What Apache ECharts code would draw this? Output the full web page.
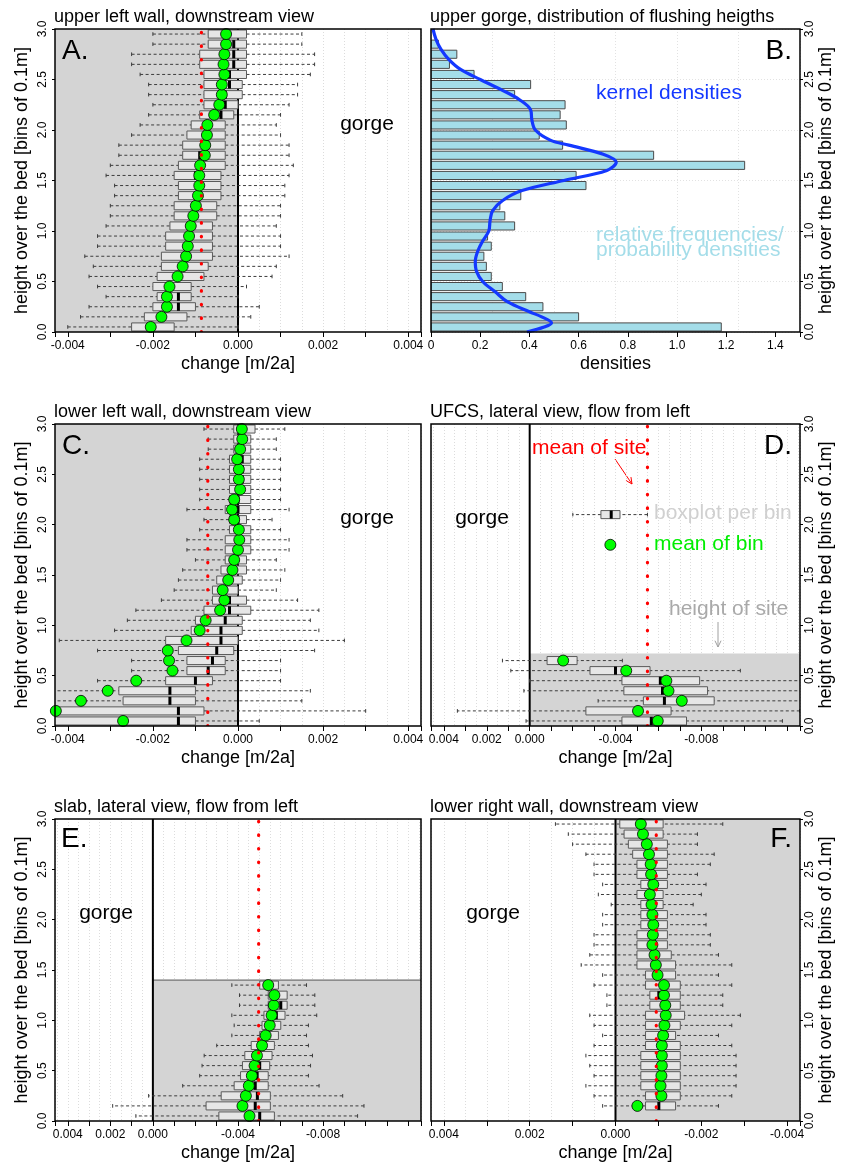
<!DOCTYPE html>
<html><head><meta charset="utf-8">
<script src="https://cdn.jsdelivr.net/npm/echarts@6/dist/echarts.min.js"></script>
<style>html,body{margin:0;padding:0;background:#fff}#c{width:841px;height:1168px}</style>
</head><body><div id="c"></div><script>
const FONT = '"Liberation Sans", Arial, Helvetica, sans-serif';
const BIN = 0.1;
const Y_RANGE = [0, 3];
const Y_TICKS = 0.5;

// ---------- Panel A: upper left wall (rows: [whiskerLow, q1, median, q3, whiskerHigh], bin 0 = bottom)
const A_BOX = [
  [-0.0040,-0.0025,-0.0020,-0.0015,0.0000],[-0.0037,-0.0022,-0.0018,-0.0012,0.0003],
  [-0.0035,-0.0020,-0.0014,-0.0010,0.0005],[-0.0031,-0.0019,-0.0014,-0.0011,0.0000],
  [-0.0033,-0.0020,-0.0016,-0.0011,0.0002],[-0.0035,-0.0019,-0.0014,-0.0008,0.0008],
  [-0.0034,-0.0018,-0.0013,-0.0007,0.0009],[-0.0036,-0.0018,-0.0012,-0.0006,0.0012],
  [-0.0033,-0.0017,-0.0012,-0.0006,0.0010],[-0.0033,-0.0017,-0.0011,-0.0006,0.0010],
  [-0.0031,-0.0016,-0.0011,-0.0006,0.0009],[-0.0030,-0.0015,-0.0010,-0.0005,0.0010],
  [-0.0030,-0.0015,-0.0010,-0.0005,0.0010],[-0.0029,-0.0014,-0.0009,-0.0004,0.0011],
  [-0.0029,-0.0014,-0.0009,-0.0004,0.0011],[-0.0031,-0.0015,-0.0010,-0.0004,0.0012],
  [-0.0030,-0.0014,-0.0009,-0.0003,0.0013],[-0.0028,-0.0013,-0.0009,-0.0003,0.0012],
  [-0.0028,-0.0013,-0.0008,-0.0003,0.0012],[-0.0025,-0.0012,-0.0007,-0.0003,0.0010],
  [-0.0023,-0.0011,-0.0007,-0.0003,0.0009],[-0.0021,-0.0009,-0.0004,-0.0001,0.0010],
  [-0.0020,-0.0008,-0.0003,0.0000,0.0012],[-0.0021,-0.0008,-0.0003,0.0001,0.0014],
  [-0.0021,-0.0008,-0.0002,0.0001,0.0014],[-0.0023,-0.0008,-0.0002,0.0002,0.0017],
  [-0.0025,-0.0009,-0.0001,0.0002,0.0018],[-0.0025,-0.0009,-0.0001,0.0002,0.0018],
  [-0.0020,-0.0007,-0.0001,0.0002,0.0015],[-0.0020,-0.0007,-0.0003,0.0002,0.0015]
];
const A_MEAN = [-0.00205,-0.0018,-0.00167,-0.00167,-0.00161,-0.00142,-0.0013,-0.00122,-0.00118,-0.00115,
  -0.00111,-0.00105,-0.00099,-0.00094,-0.00091,-0.00091,-0.00089,-0.00078,-0.00077,-0.00073,
  -0.00072,-0.00056,-0.00044,-0.00038,-0.00038,-0.00032,-0.00034,-0.00032,-0.00028,-0.00028];
const A_SITE_MEAN = -0.00086;
const A_XLIM = [-0.0043, 0.0043];

// ---------- Panel B: distribution of flushing heights
const B_DENS = [1.18,0.60,0.455,0.385,0.29,0.245,0.225,0.215,0.245,0.23,
  0.34,0.30,0.28,0.365,0.63,0.59,1.275,0.905,0.535,0.44,
  0.55,0.525,0.545,0.34,0.405,0.175,0.075,0.105,0.03,0];
const KDE_H = [0,0.05,0.09,0.15,0.2,0.3,0.4,0.5,0.6,0.7,0.8,0.9,1.0,1.1,1.2,1.3,1.4,1.5,1.6,1.68,1.76,1.85,1.9,2.0,2.1,2.2,2.3,2.4,2.5,2.6,2.7,2.8,2.9,3.0];
const KDE_D = [0.39,0.46,0.49,0.45,0.40,0.31,0.26,0.21,0.185,0.18,0.19,0.21,0.235,0.24,0.25,0.29,0.37,0.54,0.715,0.753,0.70,0.56,0.485,0.424,0.41,0.405,0.36,0.285,0.2,0.12,0.072,0.04,0.02,0.008];
const B_XLIM = [0, 1.5];

// ---------- Panel C: lower left wall
const C_BOX = [
  [-0.0055,-0.0044,-0.0014,-0.0010,0.0005],[-0.0055,-0.0044,-0.0014,-0.0008,0.0030],
  [-0.0045,-0.0027,-0.0016,-0.0010,0.0015],[-0.0045,-0.0028,-0.0016,-0.0010,0.0017],
  [-0.0033,-0.0017,-0.0010,-0.0006,0.0010],[-0.0025,-0.0012,-0.0007,-0.0003,0.0010],
  [-0.0025,-0.0012,-0.0006,-0.0003,0.0010],[-0.0033,-0.0014,-0.0005,-0.0001,0.0018],
  [-0.0042,-0.0017,-0.0004,0.0000,0.0025],[-0.0029,-0.0011,-0.0004,0.0001,0.0019],
  [-0.0026,-0.0010,-0.0003,0.0001,0.0017],[-0.0024,-0.0008,-0.0002,0.0003,0.0019],
  [-0.0018,-0.0006,-0.0002,0.0002,0.0014],[-0.0015,-0.0006,-0.0003,0.0000,0.0009],
  [-0.0014,-0.0005,-0.0002,0.0001,0.0010],[-0.0013,-0.0004,-0.0001,0.0002,0.0011],
  [-0.0010,-0.0003,-0.0001,0.0002,0.0009],[-0.0012,-0.0003,0.0000,0.0003,0.0012],
  [-0.0012,-0.0003,0.0000,0.0003,0.0012],[-0.0009,-0.0002,0.0000,0.0003,0.0010],
  [-0.0008,-0.0002,0.0000,0.0002,0.0008],[-0.0012,-0.0003,0.0000,0.0003,0.0012],
  [-0.0009,-0.0002,0.0000,0.0003,0.0010],[-0.0009,-0.0002,0.0001,0.0003,0.0010],
  [-0.0009,-0.0002,0.0001,0.0003,0.0010],[-0.0009,-0.0002,0.0001,0.0003,0.0010],
  [-0.0009,-0.0002,0.0001,0.0003,0.0010],[-0.0007,-0.0001,0.0001,0.0003,0.0009],
  [-0.0007,-0.0001,0.0001,0.0003,0.0009],[-0.0008,-0.0001,0.0001,0.0004,0.0011]
];
const C_MEAN = [-0.0027,-0.00428,-0.00369,-0.00306,-0.00239,-0.00154,-0.00162,-0.00165,-0.00121,-0.0009,
  -0.00076,-0.00042,-0.00032,-0.00036,-0.00023,-0.00013,-0.00009,0.0,0.00003,0.00002,
  -0.00009,-0.00014,-0.00009,0.00005,0.00002,0.00002,-0.00002,0.00005,0.0001,0.00009];
const C_SITE_MEAN = -0.00071;
const C_XLIM = [-0.0043, 0.0043];

// ---------- Panel D: UFCS (lateral view)
const D_BOX = [
  [-0.01178,-0.00731,-0.00567,-0.0043,0.00017],[-0.01259,-0.00659,-0.0050,-0.00262,0.00337],
  [-0.0135,-0.0086,-0.00628,-0.0053,-0.00319],[-0.0135,-0.00829,-0.00619,-0.00439,0.00027],
  [-0.0135,-0.00792,-0.00609,-0.0043,0.0000],[-0.00982,-0.00561,-0.0040,-0.00281,0.00088],
  [-0.00432,-0.00221,-0.0016,-0.00081,0.00127]
];
const D_MEAN = [-0.00597,-0.00505,-0.00709,-0.00647,-0.00637,-0.0045,-0.00156];
const D_SITE_MEAN = -0.00549;
const D_SITE_HEIGHT = 0.72;
const D_LEGEND_BOX = [-0.00549,-0.00421,-0.0038,-0.00332,-0.00201];
const D_LEGEND_BOX_Y = 2.1;
const D_LEGEND_MEAN = [-0.00376, 1.8];
const D_XLIM = [-0.0126, 0.0046];

// ---------- Panel E: slab (lateral view)
const E_BOX = [
  [-0.00962,-0.00571,-0.00502,-0.0031,0.0008],[-0.00992,-0.00552,-0.00481,-0.0025,0.00189],
  [-0.00892,-0.00552,-0.00491,-0.00321,0.0002],[-0.00781,-0.00542,-0.00481,-0.00382,-0.0014],
  [-0.00731,-0.00542,-0.0049,-0.00412,-0.0022],[-0.00741,-0.00549,-0.00502,-0.00421,-0.00231],
  [-0.0075,-0.0056,-0.0050,-0.00432,-0.00241],[-0.00731,-0.00571,-0.0052,-0.00462,-0.0030],
  [-0.00722,-0.0059,-0.0054,-0.00502,-0.00371],[-0.00731,-0.00601,-0.0056,-0.00513,-0.00382],
  [-0.0077,-0.00621,-0.0058,-0.00522,-0.00371],[-0.00761,-0.00631,-0.00601,-0.00542,-0.00407],
  [-0.00761,-0.00631,-0.0058,-0.00542,-0.00407],[-0.00722,-0.0059,-0.0054,-0.00502,-0.00371]
];
const E_MEAN = [-0.00454,-0.00421,-0.00437,-0.00451,-0.00465,-0.00478,-0.00489,-0.00513,-0.0053,-0.00549,-0.00558,-0.00568,-0.00571,-0.00542];
const E_SITE_MEAN = -0.00497;
const E_SITE_HEIGHT = 1.4;
const E_XLIM = [-0.0126, 0.0046];

// ---------- Panel F: lower right wall (no data in bin 0)
const F_BOX = [
  null,
  [-0.0024,-0.0014,-0.00101,-0.0007,0.0003],[-0.00271,-0.00151,-0.0011,-0.0007,0.0005],
  [-0.00281,-0.00151,-0.0011,-0.00059,0.00069],[-0.00281,-0.00151,-0.0011,-0.00059,0.0005],
  [-0.00281,-0.00151,-0.0011,-0.00059,0.0006],[-0.00281,-0.00151,-0.0011,-0.00059,0.00069],
  [-0.00271,-0.00151,-0.0011,-0.0007,0.0005],[-0.0024,-0.0014,-0.0011,-0.0007,0.0003],
  [-0.00271,-0.00151,-0.00112,-0.0007,0.0005],[-0.00291,-0.00161,-0.00115,-0.0007,0.0006],
  [-0.0025,-0.00151,-0.00113,-0.0008,0.0002],[-0.0025,-0.00151,-0.00101,-0.0008,0.0002],
  [-0.00271,-0.00151,-0.00112,-0.0007,0.0005],[-0.0024,-0.0014,-0.00098,-0.0007,0.0003],
  [-0.00271,-0.0014,-0.00094,-0.0005,0.0008],[-0.0024,-0.0013,-0.00091,-0.0005,0.0006],
  [-0.00221,-0.00121,-0.00086,-0.0005,0.0005],[-0.00221,-0.00121,-0.00087,-0.0005,0.0005],
  [-0.00211,-0.00121,-0.00088,-0.00059,0.0003],[-0.00211,-0.00121,-0.00086,-0.00059,0.0003],
  [-0.00181,-0.00111,-0.00084,-0.00059,0.0001],[-0.0020,-0.00111,-0.0008,-0.0005,0.0004],
  [-0.00211,-0.00121,-0.00088,-0.00059,0.0003],[-0.00191,-0.00121,-0.00083,-0.0005,0.0005],
  [-0.00221,-0.00121,-0.00082,-0.0005,0.0005],[-0.0023,-0.00121,-0.00078,-0.0004,0.00069],
  [-0.00191,-0.00121,-0.00073,-0.0003,0.0010],[-0.00191,-0.00111,-0.00064,-0.0002,0.0011],
  [-0.0025,-0.00111,-0.00059,-0.0001,0.0014]
];
const F_MEAN = [null,-0.00051,-0.00107,-0.00105,-0.00107,-0.00108,-0.00108,-0.00108,-0.00111,-0.00114,
  -0.00117,-0.00116,-0.00113,-0.00113,-0.00098,-0.00094,-0.00091,-0.00086,-0.00087,-0.00088,
  -0.00086,-0.00084,-0.0008,-0.00088,-0.00083,-0.00082,-0.00078,-0.00073,-0.00064,-0.00059];
const F_SITE_MEAN = -0.00095;
const F_XLIM = [-0.0043, 0.0043];

// ---------- texts
const TITLES = ['upper left wall, downstream view','upper gorge, distribution of flushing heigths',
  'lower left wall, downstream view','UFCS, lateral view, flow from left',
  'slab, lateral view, flow from left','lower right wall, downstream view'];
const LETTERS = ['A.','B.','C.','D.','E.','F.'];
const X_NAME = 'change [m/2a]';
const Y_NAME = 'height over the bed [bins of 0.1m]';

// ================= builder =================
const BOX_W = 0.08;
const grids = [], xAxes = [], yAxes = [], series = [];

function tickLabel(allowed) {
  return function (v) {
    const k = Math.round(v * 1e4);
    if (Math.abs(v * 1e4 - k) > 1e-6) return '';
    return allowed(k) ? (k / 1e4).toFixed(3) : '';
  };
}

function yAxisCfg(g, yPos, showSplit) {
  return {gridIndex:g, type:'value', min:Y_RANGE[0], max:Y_RANGE[1], interval:Y_TICKS, position:yPos,
    axisLine:{show:false, onZero:false}, axisTick:{show:true, length:3, lineStyle:{color:'#000'}},
    axisLabel:{rotate:90, fontSize:12, color:'#000', margin: yPos==='left'?6:4, fontFamily:FONT,
      formatter: v => v.toFixed(1)},
    splitLine:{show:!!showSplit, lineStyle:{color:'#e2e2e2', width:1, type:[1,2]}},
    name:Y_NAME, nameLocation:'middle', nameGap: yPos==='left'?24:17,
    nameTextStyle:{fontSize:18, color:'#000', fontFamily:FONT}};
}

function addPanel(rect, xlim, inverse, labelFn, yPos, xName) {
  const g = grids.length;
  grids.push(Object.assign({show:false, containLabel:false}, rect));
  const xi = xAxes.length;
  xAxes.push({gridIndex:g, type:'value', min:xlim[0], max:xlim[1], inverse:inverse, position:'bottom',
    splitNumber: Math.round((xlim[1]-xlim[0]) / 0.001075),
    axisLine:{show:false, onZero:false}, axisTick:{show:true, length:5, lineStyle:{color:'#000', width:1}},
    axisLabel:{formatter:labelFn, fontSize:12, color:'#000', margin:8, fontFamily:FONT},
    splitLine:{show:false},
    name:xName, nameLocation:'middle', nameGap:23,
    nameTextStyle:{fontSize:18, color:'#000', fontFamily:FONT}});
  xAxes.push({gridIndex:g, type:'value', min:xlim[0], max:xlim[1], inverse:inverse, position:'top',
    splitNumber: Math.round((xlim[1]-xlim[0]) / 0.000506),
    axisLine:{show:false, onZero:false}, axisTick:{show:false}, axisLabel:{show:false},
    splitLine:{show:true, lineStyle:{color:'#dcdcdc', width:1, type:[1,2]}}});
  const yi = yAxes.length;
  yAxes.push(yAxisCfg(g, yPos, false));
  return {g, xi, yi};
}

function renderBox(params, api) {
  const yc = api.value(0);
  const xs = [1,2,3,4,5].map(d => api.coord([api.value(d), yc])[0]);
  const py = api.coord([api.value(1), yc])[1];
  const h = api.size([0, BOX_W])[1];
  const cap = h * 0.45;
  const bl = Math.min(xs[1], xs[3]), br = Math.max(xs[1], xs[3]);
  const dash = {stroke:'#3c3c3c', lineWidth:1, lineDash:[3,2.5]};
  return {type:'group', children:[
    {type:'line', shape:{x1:xs[0], y1:py, x2:xs[1], y2:py}, style:dash},
    {type:'line', shape:{x1:xs[3], y1:py, x2:xs[4], y2:py}, style:dash},
    {type:'line', shape:{x1:xs[0], y1:py-cap/2, x2:xs[0], y2:py+cap/2}, style:{stroke:'#3c3c3c', lineWidth:1}},
    {type:'line', shape:{x1:xs[4], y1:py-cap/2, x2:xs[4], y2:py+cap/2}, style:{stroke:'#3c3c3c', lineWidth:1}},
    {type:'rect', shape:{x:bl, y:py-h/2, width:br-bl, height:h}, style:{fill:'#e6e6e6', stroke:'#5a5a5a', lineWidth:1}},
    {type:'line', shape:{x1:xs[2], y1:py-h/2, x2:xs[2], y2:py+h/2}, style:{stroke:'#000', lineWidth:3}}
  ]};
}

function renderVLine(style) {
  return function (params, api) {
    const x = api.value(0);
    const p0 = api.coord([x, Y_RANGE[0]]), p1 = api.coord([x, Y_RANGE[1]]);
    return {type:'line', shape:{x1:p0[0], y1:p0[1], x2:p1[0], y2:p1[1]}, style:style};
  };
}

function renderShade(topLine) {
  return function (params, api) {
    const p0 = api.coord([api.value(0), api.value(2)]);
    const p1 = api.coord([api.value(1), api.value(3)]);
    const x = Math.min(p0[0], p1[0]), y = Math.min(p0[1], p1[1]);
    const w = Math.abs(p1[0]-p0[0]), h = Math.abs(p1[1]-p0[1]);
    const ch = [{type:'rect', shape:{x, y, width:w, height:h}, style:{fill:'#d4d4d4'}}];
    if (topLine) ch.push({type:'line', shape:{x1:x, y1:y, x2:x+w, y2:y}, style:{stroke:'#555', lineWidth:1}});
    return {type:'group', children:ch};
  };
}

function frameSeries(ax) {
  return {type:'custom', xAxisIndex:ax.xi, yAxisIndex:ax.yi, z:20, silent:true, clip:false,
    data:[[0, 0]], encode:{x:0, y:1},
    renderItem: function (params) {
      const c = params.coordSys;
      return {type:'rect', shape:{x:c.x, y:c.y, width:c.width, height:c.height},
        style:{fill:null, stroke:'#000', lineWidth:1.5}};
    }};
}

function binCenter(i) { return (i + 0.5) * BIN; }

function addBoxSeries(ax, box, mean, site, shade, shadeTopLine) {
  const base = {xAxisIndex:ax.xi, yAxisIndex:ax.yi, silent:true};
  series.push(Object.assign({type:'custom', z:1, clip:true, data:[shade], encode:{x:[0,1], y:[2,3]},
    renderItem: renderShade(shadeTopLine)}, base));
  series.push(Object.assign({type:'custom', z:2, clip:true, data:[[0, 0]], encode:{x:0, y:1},
    renderItem: renderVLine({stroke:'#000', lineWidth:2})}, base));
  const bd = [];
  box.forEach((b, i) => { if (b) bd.push([binCenter(i)].concat(b)); });
  series.push(Object.assign({type:'custom', z:3, clip:true, data:bd, encode:{x:[1,2,3,4,5], y:0},
    renderItem: renderBox}, base));
  const md = [];
  mean.forEach((m, i) => { if (m !== null) md.push([m, binCenter(i)]); });
  series.push(Object.assign({type:'scatter', z:4, data:md, symbolSize:11, symbol:'circle',
    itemStyle:{color:'#00ff00', borderColor:'#000', borderWidth:0.8, opacity:1}}, base));
  series.push(Object.assign({type:'custom', z:5, clip:true, data:[[site, 0]], encode:{x:0, y:1},
    renderItem: renderVLine({stroke:'#ff0000', lineWidth:3.2, lineDash:[0.5, 13.1], lineCap:'round'})}, base));
  series.push(frameSeries(ax));
}

const every2 = tickLabel(k => k % 20 === 0);
const lateral = tickLabel(k => [40, 20, 0, -40, -80].indexOf(k) >= 0);

// Panel A
const axA = addPanel({left:55, top:29, width:366, height:303}, A_XLIM, false, every2, 'left', X_NAME);
addBoxSeries(axA, A_BOX, A_MEAN, A_SITE_MEAN, [A_XLIM[0], 0, Y_RANGE[0], Y_RANGE[1]], false);

// Panel B
const gB = grids.length;
grids.push({show:false, left:431, top:29, width:369, height:303});
const xiB = xAxes.length;
xAxes.push({gridIndex:gB, type:'value', min:B_XLIM[0], max:B_XLIM[1], interval:0.2, position:'bottom',
  axisLine:{show:false, onZero:false}, axisTick:{show:true, length:5, lineStyle:{color:'#000'}},
  axisLabel:{fontSize:12, color:'#000', margin:8, fontFamily:FONT,
    formatter: v => { const r = Math.round(v * 10); if (Math.abs(v*10 - r) > 1e-6 || r % 2) return ''; return r === 0 ? '0' : v.toFixed(1); }},
  splitLine:{show:false}, name:'densities', nameLocation:'middle', nameGap:23,
  nameTextStyle:{fontSize:18, color:'#000', fontFamily:FONT}});
xAxes.push({gridIndex:gB, type:'value', min:B_XLIM[0], max:B_XLIM[1], interval:0.25, position:'top',
  axisLine:{show:false, onZero:false}, axisTick:{show:false}, axisLabel:{show:false},
  splitLine:{show:true, lineStyle:{color:'#e2e2e2', width:1, type:[1,2]}}});
const yiB = yAxes.length;
yAxes.push(yAxisCfg(gB, 'right', true));
const axB = {g:gB, xi:xiB, yi:yiB};
series.push({type:'custom', xAxisIndex:xiB, yAxisIndex:yiB, z:2, clip:true, silent:true,
  data: B_DENS.map((d, i) => [d, i * BIN, (i + 1) * BIN]), encode:{x:0, y:[1,2]},
  renderItem: function (params, api) {
    const p0 = api.coord([0, api.value(1)]), p1 = api.coord([api.value(0), api.value(2)]);
    const w = p1[0] - p0[0];
    if (w <= 0.5) return null;
    return {type:'rect', shape:{x:p0[0], y:p1[1] + 1, width:w, height:(p0[1] - p1[1]) - 2},
      style:{fill:'#a4dde9', stroke:'#4a4a4a', lineWidth:1}};
  }});
series.push({type:'line', xAxisIndex:xiB, yAxisIndex:yiB, z:3, silent:true, smooth:0.35, showSymbol:false,
  data: KDE_H.map((h, i) => [KDE_D[i], h]), lineStyle:{color:'#1438ff', width:3.2}, clip:true});
series.push(frameSeries(axB));

// Panel C
const axC = addPanel({left:55, top:424, width:366, height:302}, C_XLIM, false, every2, 'left', X_NAME);
addBoxSeries(axC, C_BOX, C_MEAN, C_SITE_MEAN, [C_XLIM[0], 0, Y_RANGE[0], Y_RANGE[1]], false);

// Panel D
const axD = addPanel({left:431, top:424, width:369, height:302}, D_XLIM, true, lateral, 'right', X_NAME);
addBoxSeries(axD, D_BOX, D_MEAN, D_SITE_MEAN, [0, D_XLIM[0], Y_RANGE[0], D_SITE_HEIGHT], false);
series.push({type:'custom', xAxisIndex:axD.xi, yAxisIndex:axD.yi, z:3, silent:true,
  data:[[D_LEGEND_BOX_Y].concat(D_LEGEND_BOX)], encode:{x:[1,2,3,4,5], y:0}, renderItem: renderBox});
series.push({type:'scatter', xAxisIndex:axD.xi, yAxisIndex:axD.yi, z:4, silent:true, data:[D_LEGEND_MEAN],
  symbolSize:11, itemStyle:{color:'#00ff00', borderColor:'#000', borderWidth:0.8, opacity:1}});

// Panel E
const axE = addPanel({left:55, top:819, width:366, height:302}, E_XLIM, true, lateral, 'left', X_NAME);
addBoxSeries(axE, E_BOX, E_MEAN, E_SITE_MEAN, [0, E_XLIM[0], Y_RANGE[0], E_SITE_HEIGHT], true);

// Panel F
const axF = addPanel({left:431, top:819, width:369, height:302}, F_XLIM, true, every2, 'right', X_NAME);
addBoxSeries(axF, F_BOX, F_MEAN, F_SITE_MEAN, [0, F_XLIM[0], Y_RANGE[0], Y_RANGE[1]], false);

// ================= annotations =================
function txt(text, x, y, size, color, align) {
  return {type:'text', x:x, y:y, z:100, silent:true,
    style:{text:text, fill:color, fontSize:size, fontFamily:FONT,
      align:align || 'left', verticalAlign:'middle', textAlign:align || 'left', textVerticalAlign:'middle'}};
}
function arrow(x1, y1, x2, y2, color) {
  const a = Math.atan2(y2 - y1, x2 - x1), L = 7, s = Math.PI / 7;
  return {type:'group', z:100, silent:true, children:[
    {type:'line', shape:{x1, y1, x2, y2}, style:{stroke:color, lineWidth:1}},
    {type:'polyline', shape:{points:[[x2 - L*Math.cos(a - s), y2 - L*Math.sin(a - s)], [x2, y2],
      [x2 - L*Math.cos(a + s), y2 - L*Math.sin(a + s)]]}, style:{stroke:color, lineWidth:1, fill:null}}
  ]};
}
const TITLE_POS = [[54,17],[430,17],[54,412],[430,412],[54,807],[430,807]];
const LETTER_POS = [[62,51,'left'],[792,51,'right'],[62,446,'left'],[792,446,'right'],[61,839,'left'],[792,839,'right']];
const elements = [];
TITLES.forEach((t, i) => elements.push(txt(t, TITLE_POS[i][0], TITLE_POS[i][1], 18, '#000')));
LETTERS.forEach((t, i) => elements.push(txt(t, LETTER_POS[i][0], LETTER_POS[i][1], 28, '#000', LETTER_POS[i][2])));
[[367,124],[367,518],[482,518],[106,913],[493,913]].forEach(p => elements.push(txt('gorge', p[0], p[1], 21, '#000', 'center')));
elements.push(txt('kernel densities', 596, 93, 21, '#1438ff'));
elements.push(txt('relative frequencies/', 596, 235, 21, '#a4dde9'));
elements.push(txt('probability densities', 596, 250, 21, '#a4dde9'));
elements.push(txt('mean of site', 532, 448, 21, '#ff0000'));
elements.push(txt('boxplot per bin', 654, 513, 21, '#d0d0d0'));
elements.push(txt('mean of bin', 654, 544, 21, '#00ee00'));
elements.push(txt('height of site', 669, 609, 21, '#a9a9a9'));
elements.push(arrow(615, 459, 632, 484, '#ff0000'));
elements.push(arrow(718, 622, 718, 647, '#a0a0a0'));

const chart = echarts.init(document.getElementById('c'), null, {renderer:'canvas', width:841, height:1168});
chart.setOption({
  animation:false,
  backgroundColor:'#ffffff',
  textStyle:{fontFamily:FONT},
  grid:grids, xAxis:xAxes, yAxis:yAxes, series:series,
  graphic:{elements:elements}
});
</script></body></html>
